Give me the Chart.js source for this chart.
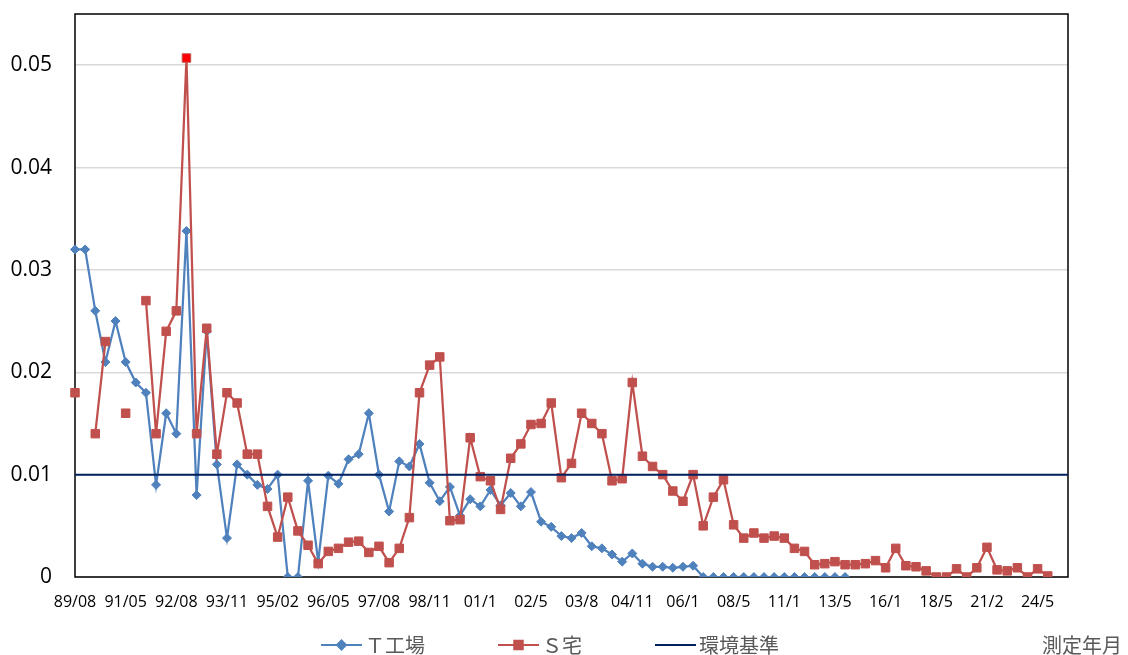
<!DOCTYPE html>
<html lang="ja">
<head>
<meta charset="UTF-8">
<title>測定結果の推移</title>
<script src="https://cdn.jsdelivr.net/npm/chart.js"></script>
<style>
  html, body { margin: 0; padding: 0; background: #fff; }
</style>
</head>
<body>
<canvas id="chart" width="1128" height="655"></canvas>
<script>
// axis labels shown every 5th measurement
const tickLabels = ['89/08', '91/05', '92/08', '93/11', '95/02', '96/05', '97/08', '98/11', '01/1', '02/5',
                    '03/8', '04/11', '06/1', '08/5', '11/1', '13/5', '16/1', '18/5', '21/2', '24/5'];
const tickEvery = 5;
const categoryCount = 99;

// Ｔ工場
const tFactory = [0.032, 0.032, 0.026, 0.021, 0.025, 0.021, 0.019, 0.018, 0.009, 0.016,
                  0.014, 0.0338, 0.008, 0.024, 0.011, 0.0038, 0.011, 0.010, 0.009, 0.0086,
                  0.010, 0, 0, 0.0094, 0.0015, 0.0099, 0.0091, 0.0115, 0.012, 0.016,
                  0.010, 0.0064, 0.0113, 0.0108, 0.013, 0.0092, 0.0074, 0.0088, 0.006, 0.0076,
                  0.0069, 0.0085, 0.007, 0.0082, 0.0069, 0.0083, 0.0054, 0.0049, 0.004, 0.0038,
                  0.0043, 0.003, 0.0028, 0.0022, 0.0015, 0.0023, 0.0013, 0.001, 0.001, 0.0009,
                  0.001, 0.0011, 0, 0, 0, 0, 0, 0, 0, 0,
                  0, 0, 0, 0, 0, 0, 0];

// Ｓ宅
const sHouse = [0.018, null, 0.014, 0.023, null, 0.016, null, 0.027, 0.014, 0.024,
                0.026, 0.0507, 0.014, 0.0243, 0.012, 0.018, 0.017, 0.012, 0.012, 0.0069,
                0.0039, 0.0078, 0.0045, 0.0031, 0.0013, 0.0025, 0.0028, 0.0034, 0.0035, 0.0024,
                0.003, 0.0014, 0.0028, 0.0058, 0.018, 0.0207, 0.0215, 0.0055, 0.0056, 0.0136,
                0.0098, 0.0094, 0.0066, 0.0116, 0.013, 0.0149, 0.015, 0.017, 0.0097, 0.0111,
                0.016, 0.015, 0.014, 0.0094, 0.0096, 0.019, 0.0118, 0.0108, 0.010, 0.0084,
                0.0074, 0.010, 0.005, 0.0078, 0.0095, 0.0051, 0.0038, 0.0043, 0.0038, 0.004,
                0.0038, 0.0028, 0.0025, 0.0012, 0.0013, 0.0015, 0.0012, 0.0012, 0.0013, 0.0016,
                0.0009, 0.0028, 0.0011, 0.001, 0.0006, 0, 0, 0.0008, 0, 0.0009,
                0.0029, 0.0007, 0.0006, 0.0009, 0, 0.0008, 0.0001];

// 環境基準
const standardValue = 0.01;

const labels = [];
for (let i = 0; i < categoryCount; i++) {
  labels.push(i % tickEvery === 0 ? (tickLabels[i / tickEvery] || '') : '');
}
const standard = labels.map(() => standardValue);

// the highest reading of Ｓ宅 gets a bright red marker
const peak = sHouse.indexOf(Math.max(...sHouse.filter(v => v !== null)));
const sFill = sHouse.map((v, i) => i === peak ? '#FF0000' : '#C0504D');

const BLUE = '#4F81BD';
const RED = '#C0504D';
const NAVY = '#002060';

// black frame around the plot, under the series
const framePlugin = {
  id: 'frame',
  beforeDatasetsDraw(chart) {
    const { ctx, chartArea: a } = chart;
    ctx.save();
    ctx.strokeStyle = '#000';
    ctx.lineWidth = 1.5;
    ctx.strokeRect(a.left, a.top, a.right - a.left, a.bottom - a.top);
    ctx.restore();
  }
};

// legend drawn like the Excel one: line with marker, plus the 測定年月 note
const legendPlugin = {
  id: 'bottomLegend',
  afterDraw(chart) {
    const ctx = chart.ctx;
    const y = 645;
    let x = 321;
    ctx.save();
    ctx.font = '20px "Noto Sans CJK JP"';
    ctx.textBaseline = 'middle';
    chart.data.datasets.forEach(ds => {
      ctx.strokeStyle = ds.borderColor;
      ctx.lineWidth = 2;
      ctx.beginPath();
      ctx.moveTo(x, y);
      ctx.lineTo(x + 41, y);
      ctx.stroke();
      if (ds.pointRadius > 0) {
        ctx.fillStyle = ds.borderColor;
        Chart.helpers.drawPoint(ctx, { pointStyle: ds.pointStyle, radius: ds.pointRadius, borderWidth: 1, rotation: 0 }, x + 20.5, y);
      }
      ctx.fillStyle = '#595959';
      ctx.fillText(ds.label, x + 44, y);
      x += 44 + ctx.measureText(ds.label).width + 73;
    });
    ctx.fillText('測定年月', 1042, y);
    ctx.restore();
  }
};

new Chart(document.getElementById('chart'), {
  type: 'line',
  data: {
    labels: labels,
    datasets: [
      {
        label: 'Ｔ工場',
        data: tFactory,
        borderColor: BLUE,
        backgroundColor: BLUE,
        borderWidth: 2.25,
        pointStyle: 'rectRot',
        pointRadius: 4.5,
        pointBorderWidth: 1,
        pointBackgroundColor: BLUE,
        pointBorderColor: BLUE,
        tension: 0,
        order: 2
      },
      {
        label: 'Ｓ宅',
        data: sHouse,
        borderColor: RED,
        backgroundColor: RED,
        borderWidth: 2.25,
        pointStyle: 'rect',
        pointRadius: 6,
        pointBorderWidth: 1,
        pointBackgroundColor: sFill,
        pointBorderColor: RED,
        tension: 0,
        spanGaps: false,
        order: 1
      },
      {
        label: '環境基準',
        data: standard,
        borderColor: NAVY,
        backgroundColor: NAVY,
        borderWidth: 2,
        pointRadius: 0,
        tension: 0,
        order: 0
      }
    ]
  },
  options: {
    responsive: false,
    animation: false,
    layout: { padding: { left: 0, right: 60, top: 14, bottom: 38 } },
    plugins: {
      legend: { display: false },
      tooltip: { enabled: false }
    },
    scales: {
      x: {
        type: 'category',
        offset: false,
        grid: { display: false, drawTicks: false },
        border: { display: false },
        afterFit: s => { s.height = 40; s.paddingLeft = 0; s.paddingRight = 0; },
        ticks: {
          autoSkip: false,
          maxRotation: 0,
          minRotation: 0,
          padding: 16,
          color: '#000',
          font: { family: '"Open Sans"', size: 16 }
        }
      },
      y: {
        min: 0,
        max: 0.055,
        afterFit: s => { s.width = 75; s.paddingTop = 0; s.paddingBottom = 0; },
        grid: { color: '#D9D9D9', lineWidth: 1.5, drawTicks: false },
        border: { display: false },
        ticks: {
          stepSize: 0.01,
          includeBounds: false,
          padding: 23,
          color: '#000',
          font: { family: '"Open Sans"', size: 21 },
          callback: v => {
            const k = Math.round(v * 100);
            if (Math.abs(v * 100 - k) > 1e-6) return '';
            return k === 0 ? '0' : (k / 100).toFixed(2);
          }
        }
      }
    }
  },
  plugins: [framePlugin, legendPlugin]
});
</script>
</body>
</html>
